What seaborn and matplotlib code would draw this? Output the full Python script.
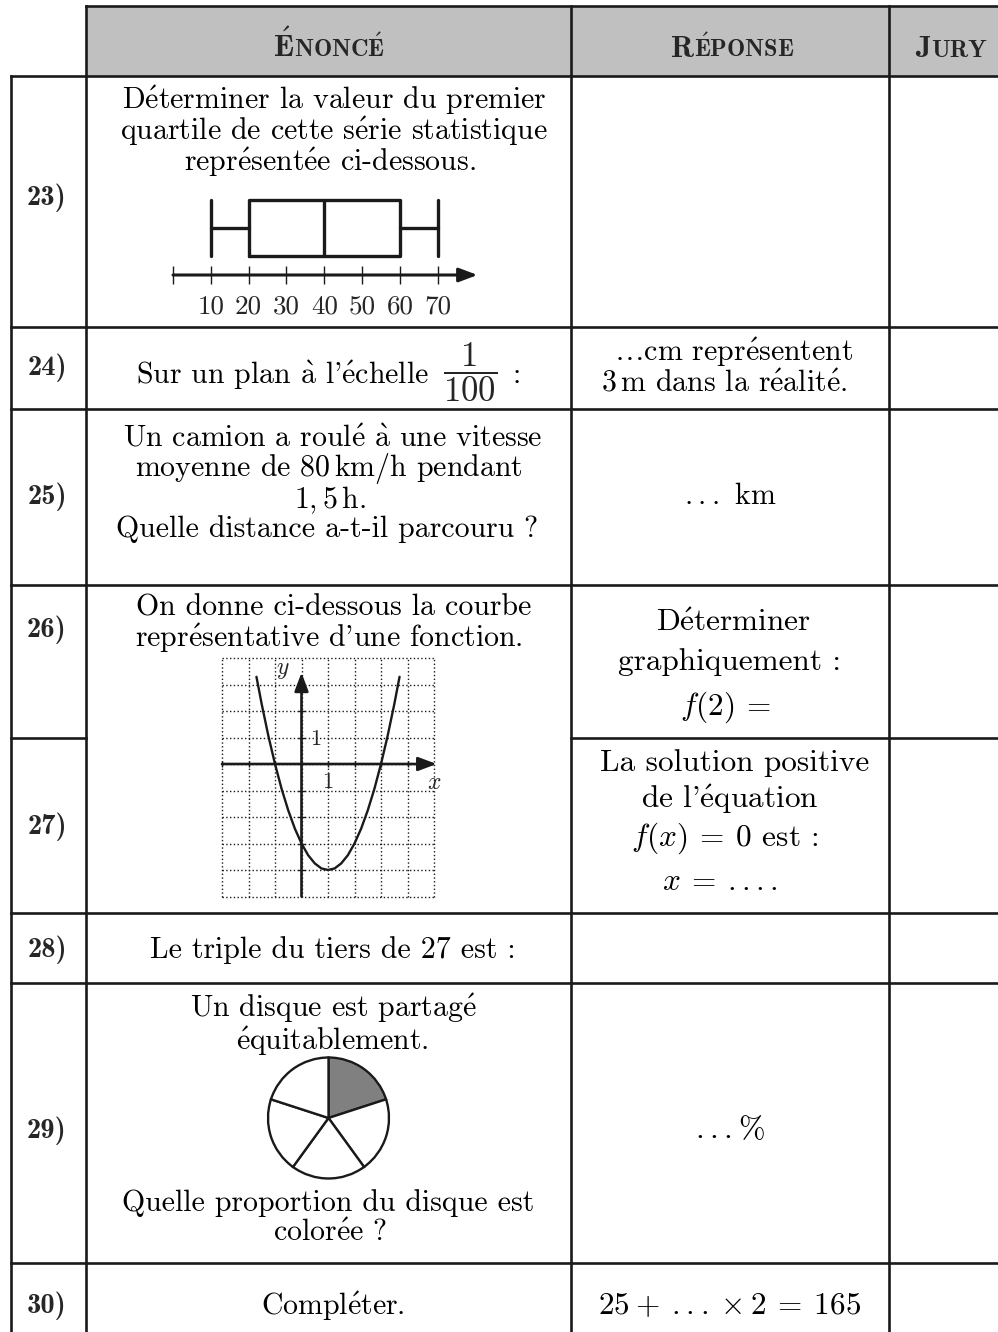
import matplotlib
matplotlib.use("Agg")
import matplotlib.pyplot as plt
import seaborn as sns
import pandas as pd

sns.set_theme(style="white")
plt.rcParams['font.family'] = ['cmr10', 'DejaVu Serif']
plt.rcParams['mathtext.fontset'] = 'cm'
plt.rcParams['axes.unicode_minus'] = False
plt.rcParams['axes.formatter.use_mathtext'] = True

# Data

row_labels = ['23)', '24)', '25)', '26)', '27)', '28)', '29)', '30)']

# box plot : min, Q1, median, Q3, max
box_stats = [10, 20, 40, 60, 70]
box_ticks = [0, 10, 20, 30, 40, 50, 60, 70]
box_tick_labels = ['10', '20', '30', '40', '50', '60', '70']

# parabola
curve_x = [-1.7, -1.5, -1.25, -1.0, -0.75, -0.5, -0.25, 0.0, 0.25, 0.5, 0.75, 1.0,
           1.25, 1.5, 1.75, 2.0, 2.25, 2.5, 2.75, 3.0, 3.25, 3.5, 3.7]
curve_y = [3.29, 2.25, 1.06, 0.0, -0.94, -1.75, -2.44, -3.0, -3.44, -3.75, -3.94, -4.0,
           -3.94, -3.75, -3.44, -3.0, -2.44, -1.75, -0.94, 0.0, 1.06, 2.25, 3.29]
grid_x = [-3, -2, -1, 0, 1, 2, 3, 4, 5]
grid_y = [-5, -4, -3, -2, -1, 0, 1, 2, 3, 4]
axis_xticks = [-3, -2, -1, 1, 2, 3, 4]
axis_yticks = [-4, -3, -2, -1, 1, 2, 3]

# disc split in five, one part coloured
pie_parts = [1, 1, 1, 1, 1]
pie_colors = ['#808080', 'white', 'white', 'white', 'white']

W, H = 998, 1332
BODY = 21.5
BIG = 22.5
fig = plt.figure(figsize=(W / 100, H / 100), dpi=100)
ax = fig.add_axes([0, 0, 1, 1])
ax.set_xlim(0, W)
ax.set_ylim(H, 0)
ax.set_axis_off()

ACC = {'é': r'\acute{e}', 'è': r'\grave{e}', 'à': r'\grave{a}', 'É': r'\acute{E}'}


def tx(s):
    return ''.join('$\\mathrm{' + ACC[c] + '}$' if c in ACC else c for c in s)


def put(x, y, s, size=BODY, **kw):
    ax.text(x, y, tx(s), fontsize=size, ha=kw.pop('ha', 'center'), va='center',
            color='black', **kw)


def inset(x0, y0, x1, y1):
    a = fig.add_axes([x0 / W, 1 - y1 / H, (x1 - x0) / W, (y1 - y0) / H])
    a.set_axis_off()
    a.patch.set_alpha(0)
    return a


# Table frame

ax.fill_between([86, W], 6, 76, color='#c0c0c0', lw=0)
lw = 1.9
for xv in [86, 571, 889]:
    ax.plot([xv, xv], [6, H], color='k', lw=lw, solid_capstyle='projecting')
ax.plot([11, 11], [76, H], color='k', lw=lw, solid_capstyle='projecting')
ax.plot([86, W], [6, 6], color='k', lw=lw, solid_capstyle='projecting')
for yv in [76, 327, 409, 585, 913, 983, 1263]:
    ax.plot([11, W], [yv, yv], color='k', lw=lw, solid_capstyle='projecting')
ax.plot([11, 86], [738, 738], color='k', lw=lw, solid_capstyle='projecting')
ax.plot([571, W], [738, 738], color='k', lw=lw, solid_capstyle='projecting')


# Header in small caps

def smallcaps(x, y, first, rest):
    t1 = ax.text(x, y, first, fontsize=22, fontfamily='cmb10', ha='left', va='baseline')
    ax.annotate(rest, xy=(1, y), xycoords=(t1, 'data'), fontsize=17.5, fontfamily='cmb10',
                ha='left', va='baseline')


smallcaps(273, 57, r'$\mathbf{\acute{E}}$', r'NONC$\mathbf{\acute{E}}$')
smallcaps(671, 57, 'R', r'$\mathbf{\acute{E}}$PONSE')
smallcaps(915, 57, 'J', 'URY')

# Row labels
label_y = [198, 368, 497, 630, 827, 950, 1131, 1306]
for lab, yv in zip(row_labels, label_y):
    ax.text(47, yv, lab, fontsize=20.5, fontfamily='cmb10', ha='center', va='center')

# Row 23
put(334, 100, "Déterminer la valeur du premier")
put(334, 131, "quartile de cette série statistique")
put(330, 162, "représentée ci-dessous.")

bax = inset(160, 190, 495, 325)
bax.set_xlim((160 - 173) / 3.783, (495 - 173) / 3.783)
bax.set_ylim(-50, 85)
stats = [dict(whislo=box_stats[0], q1=box_stats[1], med=box_stats[2], q3=box_stats[3],
              whishi=box_stats[4], fliers=[])]
bprops = dict(color='k', lw=2.4)
bax.bxp(stats, positions=[47], widths=56, capwidths=56, orientation='horizontal',
        showfliers=False, manage_ticks=False, boxprops=bprops, whiskerprops=bprops,
        capprops=bprops, medianprops=bprops)
bax.annotate('', xy=(80.5, 0), xytext=(box_ticks[0], 0),
             arrowprops=dict(arrowstyle='-|>,head_length=0.8,head_width=0.3', lw=2.2,
                             color='k', shrinkA=0, shrinkB=0, mutation_scale=14))
bax.vlines(box_ticks, -9, 9, color='k', lw=1.0)
for tv, tl in zip(box_ticks[1:], box_tick_labels):
    bax.text(tv, -32, tl, fontsize=19.5, ha='center', va='center')

# Row 24
put(429, 375, "Sur un plan à l'échelle", ha='right')
ax.text(470, 372, r"$\dfrac{1}{100}$", fontsize=25, ha='center', va='center')
put(517, 375, ":")
put(734, 352, r"$\ldots$cm représentent")
put(724, 384, r"3$\,$m dans la réalité.")

# Row 25
put(333, 439, "Un camion a roulé à une vitesse")
put(329, 469, r"moyenne de 80$\,$km/h pendant")
put(330, 500, r"$1,5\,$h.")
put(327, 529, "Quelle distance a-t-il parcouru ?")
put(730, 496, r"$...$ km")

# Rows 26-27
put(334, 608, "On donne ci-dessous la courbe")
put(329, 638, "représentative d'une fonction.")
put(734, 623, "Déterminer", size=BIG)
put(730, 662, "graphiquement :", size=BIG)
put(726, 707, r"$f(2)\:=$", size=BIG)
put(735, 763, "La solution positive", size=BIG)
put(730, 799, "de l'équation", size=BIG)
put(725, 838, r"$f(x)\:=\:0$ est :", size=BIG)
put(720, 882, r"$x\:=\:....$", size=BIG)

ux, ox, oy = 26.5, 301.5, 764
fax = inset(ox - 3.4 * ux, oy - 4.3 * ux, ox + 5.6 * ux, oy + 5.4 * ux)
fax.set_xlim(-3.4, 5.6)
fax.set_ylim(-5.4, 4.3)
dots = (0, (1, 1.7))
fax.vlines(grid_x, grid_y[0], grid_y[-1], color='k', lw=1.0, linestyles=[dots])
fax.hlines(grid_y, grid_x[0], grid_x[-1], color='k', lw=1.0, linestyles=[dots])
arrow = dict(arrowstyle='-|>,head_length=0.8,head_width=0.3', lw=1.9, color='k',
             shrinkA=0, shrinkB=0, mutation_scale=14)
fax.annotate('', xy=(5.1, 0), xytext=(grid_x[0], 0), arrowprops=arrow)
fax.annotate('', xy=(0, 3.45), xytext=(0, grid_y[0]), arrowprops=arrow)
fax.vlines(axis_xticks, -0.13, 0.13, color='k', lw=1.0)
fax.hlines(axis_yticks, -0.13, 0.13, color='k', lw=1.0)
curve = pd.DataFrame({'x': curve_x, 'y': curve_y})
sns.lineplot(data=curve, x='x', y='y', ax=fax, color='k', lw=1.7, sort=False)
fax.set_axis_off()
fax.text(1, -0.68, '1', fontsize=16, ha='center', va='center')
fax.text(0.55, 0.95, '1', fontsize=16, ha='center', va='center')
fax.text(5.0, -0.7, r'$x$', fontsize=17, ha='center', va='center')
fax.text(-0.7, 3.55, r'$y$', fontsize=17, ha='center', va='center')

# Row 28
put(333, 950, "Le triple du tiers de 27 est :")

# Row 29
put(333, 1008, "Un disque est partagé")
put(332, 1041, "équitablement.")
pax = inset(328.5 - 62, 1118 - 62, 328.5 + 62, 1118 + 62)
pax.pie(pie_parts, colors=pie_colors, startangle=90, counterclock=False, radius=1,
        wedgeprops=dict(edgecolor='k', linewidth=1.7))
pax.set_xlim(-1.025, 1.025)
pax.set_ylim(-1.025, 1.025)
put(328, 1203, "Quelle proportion du disque est")
put(330, 1233, "colorée ?")
put(730, 1130, r"$...\%$", size=23)

# Row 30
put(333, 1306, "Compléter.")
put(730, 1306, r"$25\:+\:\:...\:\times\:2\:=\:165$", size=22.5)

fig.savefig("out.png", dpi=100)
